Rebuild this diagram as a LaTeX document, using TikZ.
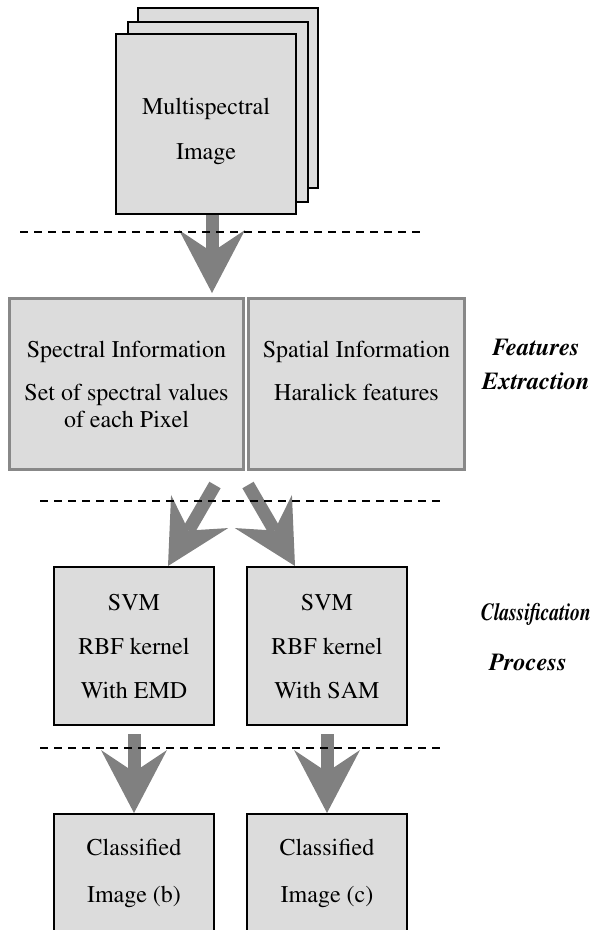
\documentclass[tikz,border=0pt]{standalone}
\usepackage[T1]{fontenc}
\renewcommand{\rmdefault}{ptm}
\usetikzlibrary{arrows.meta}
\definecolor{boxfill}{RGB}{220,220,220}
\definecolor{arrowgray}{RGB}{128,128,128}
\definecolor{edgegray}{RGB}{136,136,136}

\begin{document}
\begin{tikzpicture}[x=1pt, y=-1pt,
  every node/.style={font=\fontsize{24}{27}\selectfont, align=center, inner sep=0pt},
  page/.style={draw=black, line width=2pt, fill=boxfill, minimum width=180pt, minimum height=180pt},
  infobox/.style={draw=edgegray, line width=3pt, fill=boxfill, minimum height=171pt},
  stagebox/.style={draw=black, line width=2pt, fill=boxfill, minimum width=160pt, minimum height=158pt},
  stagelabel/.style={font=\fontsize{24.5}{34}\selectfont\bfseries\itshape},
  bigarrow/.style={draw=arrowgray, line width=13pt, -{Stealth[length=63pt, width=66pt, inset=22pt, line width=0pt]}},
  sepline/.style={black, line width=2pt, dash pattern=on 8pt off 6pt}]
  \useasboundingbox (0,0) rectangle (595,930);
  \node[page] (back) at (227.5,98) {};
  \node[page] (mid) at (217.5,111.5) {};
  \node[page, label={[yshift=-7pt]center:{Multispectral\\[18pt]Image}}] (front) at (206,124) {};
  \node[infobox, minimum width=234pt] (spectral) at (126.5,384) {Spectral Information\\[16pt]Set of spectral values\\of each Pixel};
  \node[infobox, minimum width=216pt] (spatial) at (356.5,384) {Spatial Information\\[16pt]Haralick features\\\phantom{of each Pixel}};
  \node[stagelabel] (featlbl) at (536,364) {Features\\Extraction};
  \node[stagebox] (svmemd) at (134,646) {SVM\\[17pt]RBF kernel\\[17pt]With EMD};
  \node[stagebox] (svmsam) at (327,646) {SVM\\[17pt]RBF kernel\\[17pt]With SAM};
  \node[stagelabel] (classlbl) at (536,615) {\scalebox{0.8}[1]{Classification}};
  \node[stagelabel] (proclbl) at (528,662) {Process};
  \node[stagebox, minimum height=118pt] (clsb) at (134,873) {Classified\\[20pt]Image (b)};
  \node[stagebox, minimum height=118pt] (clsc) at (327,873) {Classified\\[20pt]Image (c)};
  \coordinate (in1) at (212,293);
  \coordinate (outL) at (215,485);
  \coordinate (inL) at (168,564);
  \coordinate (outR) at (248,485);
  \coordinate (inR) at (295,564);
  \draw[bigarrow] (in1 |- front.south) -- (in1);
  \draw[bigarrow] (outL) -- (inL |- svmemd.north);
  \draw[bigarrow] (outR) -- (inR |- svmsam.north);
  \draw[bigarrow, shorten <=8pt] (svmemd) -- (clsb);
  \draw[bigarrow, shorten <=8pt] (svmsam) -- (clsc);
  \draw[sepline] (20,232) -- (420,232);
  \draw[sepline] (40,501) -- (443,501);
  \draw[sepline] (40,748) -- (443,748);
\end{tikzpicture}
\end{document}
